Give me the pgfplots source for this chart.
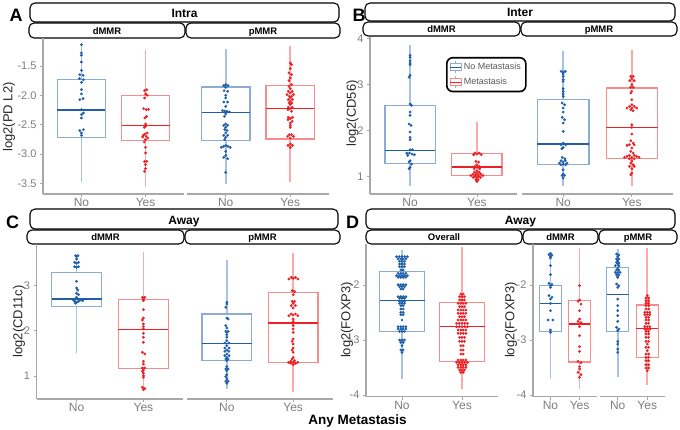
\documentclass[border=0pt]{standalone}
\usepackage{pgfplots}
\pgfplotsset{compat=1.18}
\usepgfplotslibrary{statistics}
\usepackage{fontspec}
\setmainfont{Liberation Sans}
\definecolor{dblue}{RGB}{31,95,170}
\definecolor{lblue}{RGB}{140,172,212}
\definecolor{wblue}{RGB}{168,194,228}
\definecolor{dred}{RGB}{238,32,36}
\definecolor{lred}{RGB}{246,140,140}
\definecolor{wred}{RGB}{250,170,170}
\definecolor{axgray}{RGB}{168,168,168}
\definecolor{tgray}{RGB}{125,125,125}
\pgfplotsset{
  facet/.style={scale only axis, xmin=0.4, xmax=2.6, xtick={1,2}, xticklabels={No,Yes},
    axis x line*=bottom, axis y line*=left,
    axis line style={axgray, line width=1.2pt}, tick style={axgray, line width=0.8pt},
    major tick length=3pt, tick align=outside,
    xticklabel style={font=\fontsize{12}{12}\selectfont, text=tgray, inner sep=1.5pt},
    yticklabel style={font=\fontsize{11}{11}\selectfont, text=tgray}},
  noyaxis/.style={axis y line=none},
  bdots/.style={only marks, mark=*, mark size=1.2pt, draw=dblue, fill=dblue, forget plot},
  rdots/.style={only marks, mark=*, mark size=1.2pt, draw=dred, fill=dred, forget plot},
}
\newcommand{\bx}[7]{\addplot[forget plot, draw=l#7, line width=1.15pt, boxplot prepared={draw direction=y, draw position=#1, lower whisker=#2, lower quartile=#3, median=#4, upper quartile=#5, upper whisker=#6, box extend=0.75, whisker extend=0, every median/.style={draw=d#7, line width=1.2pt}, every whisker/.style={draw=w#7, line width=1.6pt}}] coordinates {};}
\tikzset{strip/.style={line width=1.1pt, rounded corners=5pt, fill=white, draw=black}}
\begin{document}
\begin{tikzpicture}
\useasboundingbox (0pt,0pt) rectangle (680pt,430pt);
% ---------- strips and labels
\draw[strip] (30pt,408pt) rectangle (339pt,427pt);
\node[anchor=base, font=\bfseries\fontsize{12}{12}\selectfont] at (184.5pt,412pt) {Intra};
\draw[strip] (29pt,392pt) rectangle (185pt,407pt);
\node[anchor=base, font=\bfseries\fontsize{9.5}{9.5}\selectfont] at (107pt,395.8pt) {dMMR};
\draw[strip] (186pt,392pt) rectangle (340pt,407pt);
\node[anchor=base, font=\bfseries\fontsize{9.5}{9.5}\selectfont] at (263pt,395.8pt) {pMMR};
\draw[strip] (365pt,409pt) rectangle (675pt,427pt);
\node[anchor=base, font=\bfseries\fontsize{12}{12}\selectfont] at (520pt,413.3pt) {Inter};
\draw[strip] (363pt,394pt) rectangle (520pt,408pt);
\node[anchor=base, font=\bfseries\fontsize{9.5}{9.5}\selectfont] at (441.5pt,397.3pt) {dMMR};
\draw[strip] (521pt,394pt) rectangle (677pt,408pt);
\node[anchor=base, font=\bfseries\fontsize{9.5}{9.5}\selectfont] at (599pt,397.3pt) {pMMR};
\draw[strip] (30pt,201pt) rectangle (338pt,221pt);
\node[anchor=base, font=\bfseries\fontsize{12}{12}\selectfont] at (184pt,205.7pt) {Away};
\draw[strip] (27pt,186pt) rectangle (184pt,200pt);
\node[anchor=base, font=\bfseries\fontsize{9.5}{9.5}\selectfont] at (105.5pt,189pt) {dMMR};
\draw[strip] (185pt,186pt) rectangle (340pt,200pt);
\node[anchor=base, font=\bfseries\fontsize{9.5}{9.5}\selectfont] at (262.5pt,189pt) {pMMR};
\draw[strip] (366pt,201pt) rectangle (675pt,221pt);
\node[anchor=base, font=\bfseries\fontsize{12}{12}\selectfont] at (520.5pt,205.7pt) {Away};
\draw[strip] (366pt,186pt) rectangle (522pt,200pt);
\node[anchor=base, font=\bfseries\fontsize{9.5}{9.5}\selectfont] at (444pt,189pt) {Overall};
\draw[strip] (523pt,186pt) rectangle (598pt,200pt);
\node[anchor=base, font=\bfseries\fontsize{9.5}{9.5}\selectfont] at (560.5pt,189pt) {dMMR};
\draw[strip] (599pt,186pt) rectangle (677pt,200pt);
\node[anchor=base, font=\bfseries\fontsize{9.5}{9.5}\selectfont] at (638pt,189pt) {pMMR};
\node[anchor=base, font=\bfseries\fontsize{18}{18}\selectfont] at (16pt,408.3pt) {A};
\node[anchor=base, font=\bfseries\fontsize{18}{18}\selectfont] at (359pt,408.3pt) {B};
\node[anchor=base, font=\bfseries\fontsize{18}{18}\selectfont] at (12.5pt,201.7pt) {C};
\node[anchor=base, font=\bfseries\fontsize{18}{18}\selectfont] at (352.5pt,201.7pt) {D};
\node[rotate=90, font=\fontsize{13}{13}\selectfont, text=black!85] at (9pt,313pt) {log2(PD L2)};
\node[rotate=90, font=\fontsize{13}{13}\selectfont, text=black!85] at (352.5pt,316.5pt) {log2(CD56)};
\node[rotate=90, font=\fontsize{13}{13}\selectfont, text=black!85] at (19pt,108.5pt) {log2(CD11c)};
\node[rotate=90, font=\fontsize{13}{13}\selectfont, text=black!85] at (347pt,110pt) {log2(FOXP3)};
\node[rotate=90, font=\fontsize{13}{13}\selectfont, text=black!85] at (511pt,110pt) {log2(FOXP3)};
\node[anchor=base, font=\bfseries\fontsize{13.5}{13.5}\selectfont] at (357.5pt,5.7pt) {Any Metastasis};
% ---------- A dMMR
\begin{axis}[facet, at={(43pt,236pt)}, width=141pt, height=156pt, ymin=-3.682, ymax=-1.023,
  ytick={-3.5,-3,-2.5,-2,-1.5}, yticklabels={-3.5,-3.0,-2.5,-2.0,-1.5}]
\bx{1}{-3.478}{-2.716}{-2.25}{-1.733}{-1.125}{blue}
\bx{2}{-3.563}{-2.767}{-2.511}{-2.0}{-1.222}{red}
\addplot[bdots] coordinates {(1,-1.136) (1,-1.278) (1,-1.317) (1,-1.432) (1,-1.574) (0.975,-1.648) (1.025,-1.659) (0.97,-1.716) (1.03,-1.733) (1,-1.779) (1,-1.903) (1,-1.977) (1.025,-2.057) (0.975,-2.074) (1,-2.244) (1.03,-2.301) (1,-2.330) (1,-2.387) (1.03,-2.585) (0.975,-2.602) (1,-2.642) (1,-2.682)};
\addplot[rdots] coordinates {(2.02,-1.904) (1.985,-1.921) (2,-1.977) (2.025,-2.0) (1.985,-2.046) (1.97,-2.227) (2.01,-2.244) (2.045,-2.24) (2.015,-2.358) (1.99,-2.387) (2,-2.489) (2,-2.528) (1.98,-2.545) (2.025,-2.642) (1.99,-2.659) (1.965,-2.682) (2.01,-2.699) (2.035,-2.728) (1.955,-2.71) (2,-2.756) (1.98,-2.796) (2,-2.886) (2,-2.983) (2.02,-3.125) (1.985,-3.13) (2,-3.182) (2,-3.250) (1.985,-3.296)};
\end{axis}
% ---------- A pMMR
\begin{axis}[facet, noyaxis, at={(187pt,236pt)}, width=142pt, height=156pt, ymin=-3.682, ymax=-1.023]
\bx{1}{-3.507}{-2.773}{-2.290}{-1.858}{-1.205}{blue}
\bx{2}{-3.478}{-2.744}{-2.222}{-1.835}{-1.165}{red}
\addplot[bdots] coordinates {(1,-1.818) (0.97,-1.835) (1.035,-1.835) (1,-1.864) (0.975,-1.920) (1.03,-1.932) (1,-2.000) (1,-2.046) (0.97,-2.114) (1.03,-2.114) (1,-2.188) (0.95,-2.261) (0.985,-2.27) (1.02,-2.273) (1.055,-2.284) (1,-2.318) (0.98,-2.358) (1,-2.489) (0.97,-2.512) (1.03,-2.512) (1,-2.546) (0.985,-2.585) (1.02,-2.60) (1,-2.642) (0.97,-2.682) (1.03,-2.682) (1,-2.716) (0.985,-2.756) (1,-2.853) (0.965,-2.870) (1.035,-2.870) (1.07,-2.887) (0.93,-2.887) (1,-2.955) (1,-3.023) (0.97,-3.057) (1.03,-3.080) (1,-3.313)};
\addplot[rdots] coordinates {(2,-1.449) (2.02,-1.477) (2,-1.545) (1.98,-1.619) (2.02,-1.648) (2,-1.705) (1.98,-1.750) (2.02,-1.818) (1.98,-1.847) (2,-1.886) (1.97,-1.932) (2.03,-1.932) (2,-1.960) (1.95,-1.989) (2.05,-1.989) (1.985,-2.017) (2.02,-2.017) (2,-2.046) (1.97,-2.074) (2.035,-2.074) (2,-2.102) (1.98,-2.131) (2.02,-2.131) (2,-2.159) (1.97,-2.205) (2.03,-2.205) (2,-2.227) (1.965,-2.244) (2.02,-2.273) (1.97,-2.375) (2.035,-2.375) (2,-2.398) (1.965,-2.415) (2.03,-2.443) (2,-2.472) (2,-2.512) (2,-2.546) (1.985,-2.671) (2.02,-2.671) (1.96,-2.699) (2.05,-2.699) (2,-2.728) (2,-2.830) (1.965,-2.853) (2.035,-2.853) (2,-2.887)};
\end{axis}
% ---------- B dMMR
\begin{axis}[facet, at={(370pt,236pt)}, width=147pt, height=157pt, ymin=0.625, ymax=4.028,
  ytick={1,2,3,4}, yticklabels={1,2,3,4},
  legend style={at={(0.517,0.873)}, anchor=north west, draw=black, line width=1.6pt, rounded corners=6pt, fill=white, font=\fontsize{9}{10}\selectfont, text=black!65, inner xsep=3pt, inner ysep=3pt, row sep=2pt}, legend cell align=left]
\addlegendimage{legend image code/.code={\draw[lblue, line width=0.9pt, sharp corners] (0pt,-3.5pt) rectangle (11pt,3.5pt); \draw[dblue, line width=1pt] (0pt,0pt)--(11pt,0pt); \draw[lblue, line width=0.9pt] (5.5pt,3.5pt)--(5.5pt,6pt) (5.5pt,-3.5pt)--(5.5pt,-6pt);}}
\addlegendentry{No Metastasis}
\addlegendimage{legend image code/.code={\draw[lred, line width=0.9pt, sharp corners] (0pt,-3.5pt) rectangle (11pt,3.5pt); \draw[dred, line width=1pt] (0pt,0pt)--(11pt,0pt); \draw[lred, line width=0.9pt] (5.5pt,3.5pt)--(5.5pt,6pt) (5.5pt,-3.5pt)--(5.5pt,-6pt);}}
\addlegendentry{Metastasis}
\bx{1}{0.789}{1.295}{1.570}{2.539}{3.862}{blue}
\bx{2}{0.88}{1.027}{1.208}{1.497}{2.177}{red}
\addplot[bdots] coordinates {(1,3.631) (1,3.587) (1,3.515) (1,3.464) (1,3.428) (1,3.197) (0.985,3.153) (1,2.575) (1.02,2.546) (1,2.401) (1,2.329) (0.985,2.141) (1.015,2.112) (1,1.967) (1,1.852) (1,1.801) (1,1.584) (1.035,1.584) (0.95,1.512) (0.99,1.512) (1.03,1.490) (1.065,1.476) (0.965,1.461) (1,1.346) (0.985,1.317) (1.02,1.273) (1,1.201) (0.985,1.17)};
\addplot[rdots] coordinates {(1.97,1.512) (2.035,1.512) (2,1.490) (1.95,1.476) (2.065,1.476) (1.985,1.331) (2.025,1.317) (2,1.259) (1.97,1.223) (2.035,1.223) (2,1.201) (1.96,1.172) (2.04,1.172) (2,1.129) (1.965,1.100) (2.035,1.100) (2,1.078) (1.945,1.057) (2.055,1.057) (1.98,1.042) (2.02,1.042) (1.91,1.027) (2.09,1.027) (1.975,1.006) (2.025,1.006) (1.945,0.984) (2.055,0.984) (2,0.970) (1.985,0.933) (2.02,0.933) (2,0.897)};
\end{axis}
% ---------- B pMMR
\begin{axis}[facet, noyaxis, at={(522pt,236pt)}, width=151pt, height=157pt, ymin=0.625, ymax=4.028]
\bx{1}{0.789}{1.259}{1.707}{2.669}{3.717}{blue}
\bx{2}{0.789}{1.403}{2.069}{2.922}{3.753}{red}
\addplot[bdots] coordinates {(0.97,3.283) (1.03,3.283) (1,3.262) (1,3.226) (1,3.175) (1,3.103) (1,3.067) (1,2.907) (1,2.850) (1,2.792) (1,2.741) (0.985,2.597) (1.02,2.560) (1,2.488) (1,2.401) (0.985,2.286) (1.02,2.235) (1,2.163) (1,1.982) (1,1.729) (0.97,1.693) (1.035,1.693) (1,1.635) (0.98,1.606) (0.985,1.418) (1.025,1.389) (0.97,1.346) (1.03,1.346) (1,1.317) (0.945,1.295) (1.055,1.295) (1,1.273) (0.965,1.259) (1.035,1.259) (1,1.150) (1,1.057) (0.985,1.027) (1.02,1.027) (1,0.970)};
\addplot[rdots] coordinates {(1.985,3.175) (2.02,3.175) (2,3.124) (1.97,3.081) (2.035,3.081) (2,2.994) (1.98,2.936) (2.02,2.936) (2,2.850) (1.985,2.813) (2,2.669) (2,2.560) (1.965,2.524) (2.035,2.524) (1.93,2.488) (2,2.488) (2.07,2.488) (1.985,2.452) (2.02,2.430) (2,2.127) (2,2.069) (2,1.924) (1.985,1.779) (2.02,1.729) (1.965,1.693) (2.035,1.693) (1.93,1.678) (2,1.620) (1.985,1.548) (2.02,1.512) (1.965,1.461) (2.035,1.461) (1.93,1.440) (2.07,1.440) (2,1.418) (1.895,1.418) (2.105,1.418) (1.965,1.389) (2.035,1.389) (2,1.346) (1.985,1.295) (2.02,1.259) (1.965,1.223) (2.035,1.223) (2,1.172) (2,1.078) (1.985,1.042)};
\end{axis}
% ---------- C dMMR
\begin{axis}[facet, at={(36.5pt,31pt)}, width=147pt, height=155pt, ymin=0.491, ymax=3.923,
  ytick={1,2,3}, yticklabels={1,2,3}]
\bx{1}{1.517}{2.543}{2.705}{3.296}{3.665}{blue}
\bx{2}{0.68}{1.170}{2.026}{2.691}{3.739}{red}
\addplot[bdots] coordinates {(0.985,3.665) (1.02,3.665) (1,3.643) (1,3.591) (0.97,3.517) (1.03,3.517) (1,3.495) (0.97,3.421) (1.03,3.421) (1,3.406) (1,3.096) (1,2.949) (1.015,2.905) (1,2.831) (1.03,2.801) (1,2.742) (0.985,2.705) (1.02,2.705) (0.95,2.683) (1.055,2.683) (1.09,2.668) (0.97,2.654) (1.03,2.654) (1,2.632) (0.985,2.609)};
\addplot[rdots] coordinates {(1.985,2.742) (2.02,2.742) (2,2.705) (2,2.668) (2,2.469) (2,2.285) (1.985,2.240) (2,2.152) (2,2.093) (2,2.041) (2,1.945) (2,1.857) (2,1.746) (1.985,1.525) (2.02,1.488) (2,1.325) (2,1.266) (1.985,1.178) (2.02,1.178) (2,1.133) (1.985,1.104) (2,1.060) (2,1.008) (2,0.971) (1.985,0.750) (2.02,0.720) (2,0.698)};
\end{axis}
% ---------- C pMMR
\begin{axis}[facet, noyaxis, at={(187pt,31pt)}, width=146pt, height=155pt, ymin=0.491, ymax=3.923]
\bx{1}{0.713}{1.340}{1.724}{2.373}{3.569}{blue}
\bx{2}{0.639}{1.303}{2.174}{2.853}{3.716}{red}
\addplot[bdots] coordinates {(1,2.632) (1,2.595) (0.985,2.521) (1,2.285) (1.02,2.263) (0.985,2.115) (1,2.063) (0.985,1.989) (1.02,1.989) (1,1.967) (1,1.916) (1,1.857) (1,1.783) (0.97,1.731) (1.03,1.731) (1,1.672) (0.97,1.621) (1.035,1.621) (1,1.576) (0.97,1.547) (1.03,1.547) (1,1.488) (0.97,1.451) (1.035,1.451) (1,1.414) (0.985,1.377) (1.02,1.377) (1,1.340) (1,1.207) (0.985,1.155) (1.02,1.155) (1,1.119) (1,1.030) (0.985,0.986) (1,0.934) (0.985,0.882) (1.02,0.882) (1,0.838)};
\addplot[rdots] coordinates {(1.97,3.185) (2.035,3.185) (2,3.163) (2.07,3.148) (1.935,3.148) (1.985,2.890) (2.02,2.868) (2,2.801) (1.985,2.654) (2.02,2.654) (2,2.609) (1.97,2.558) (2.035,2.558) (2,2.506) (1.97,2.373) (2.035,2.373) (2,2.351) (1.935,2.336) (2.07,2.336) (2,2.263) (2,2.211) (1.985,2.167) (2,2.115) (2,2.041) (2,1.967) (2,1.820) (1.985,1.768) (2,1.709) (2,1.621) (1.985,1.576) (2,1.525) (2,1.414) (1.985,1.377) (2.02,1.340) (1.965,1.325) (2,1.303) (1.93,1.303) (2.07,1.303) (1.965,1.281) (2.035,1.281) (2,1.251)};
\end{axis}
% ---------- D overall
\begin{axis}[facet, at={(366pt,33.3pt)}, width=132pt, height=152.7pt, ymin=-4.03, ymax=-1.2545,
  ytick={-4,-3,-2}, yticklabels={-4,-3,-2}]
\bx{1}{-3.709}{-2.849}{-2.285}{-1.751}{-1.364}{blue}
\bx{2}{-3.891}{-3.388}{-2.758}{-2.315}{-1.315}{red}
\addplot[bdots] coordinates {(0.91,-1.485) (0.955,-1.485) (1,-1.485) (1.045,-1.485) (1.09,-1.485)
(0.935,-1.527) (0.98,-1.527) (1.02,-1.527) (1.065,-1.527)
(0.96,-1.570) (1,-1.570) (1.04,-1.570)
(0.96,-1.618) (1,-1.618) (1.04,-1.618)
(0.96,-1.667) (1,-1.667) (1.04,-1.667)
(0.98,-1.727) (1.02,-1.727)
(0.935,-1.788) (0.98,-1.788) (1.02,-1.788) (1.065,-1.788)
(0.91,-1.830) (0.955,-1.830) (1,-1.830) (1.045,-1.830) (1.09,-1.830)
(0.935,-1.861) (0.98,-1.861) (1.02,-1.861) (1.065,-1.861)
(0.935,-1.994) (0.98,-1.994) (1.02,-1.994) (1.065,-1.994)
(0.96,-2.030) (1,-2.030) (1.04,-2.030)
(0.98,-2.073) (1.02,-2.073)
(0.935,-2.212) (0.98,-2.212) (1.02,-2.212) (1.065,-2.212)
(0.96,-2.243) (1,-2.243) (1.04,-2.243)
(0.96,-2.297) (1,-2.297) (1.04,-2.297)
(0.96,-2.333) (1,-2.333) (1.04,-2.333)
(0.98,-2.376) (1.02,-2.376)
(0.98,-2.436) (1.02,-2.436)
(0.98,-2.497) (1.02,-2.497)
(0.98,-2.540) (1.02,-2.540)
(1,-2.636)
(0.935,-2.758) (0.98,-2.758) (1.02,-2.758) (1.065,-2.758)
(0.935,-2.800) (0.98,-2.800) (1.02,-2.800) (1.065,-2.800)
(0.96,-2.843) (1,-2.843) (1.04,-2.843)
(0.96,-3.000) (1,-3.000) (1.04,-3.000)
(0.98,-3.043) (1.02,-3.043)
(1,-3.103)
(0.98,-3.182) (1.02,-3.182)
(1,-3.224)};
\addplot[rdots] coordinates {(1.98,-2.164) (2.02,-2.164)
(1.96,-2.212) (2,-2.212) (2.04,-2.212)
(1.96,-2.273) (2,-2.273) (2.04,-2.273)
(1.935,-2.333) (1.98,-2.333) (2.02,-2.333) (2.065,-2.333)
(1.96,-2.394) (2,-2.394) (2.04,-2.394)
(1.935,-2.455) (1.98,-2.455) (2.02,-2.455) (2.065,-2.455)
(1.935,-2.515) (1.98,-2.515) (2.02,-2.515) (2.065,-2.515)
(1.96,-2.576) (2,-2.576) (2.04,-2.576)
(1.935,-2.636) (1.98,-2.636) (2.02,-2.636) (2.065,-2.636)
(1.91,-2.697) (1.955,-2.697) (2,-2.697) (2.045,-2.697) (2.09,-2.697)
(1.91,-2.758) (1.955,-2.758) (2,-2.758) (2.045,-2.758) (2.09,-2.758)
(1.935,-2.818) (1.98,-2.818) (2.02,-2.818) (2.065,-2.818)
(1.935,-2.879) (1.98,-2.879) (2.02,-2.879) (2.065,-2.879)
(1.96,-2.952) (2,-2.952) (2.04,-2.952)
(1.96,-3.024) (2,-3.024) (2.04,-3.024)
(1.98,-3.103) (2.02,-3.103)
(1.98,-3.182) (2.02,-3.182)
(1.98,-3.255) (2.02,-3.255)
(1.935,-3.364) (1.98,-3.364) (2.02,-3.364) (2.065,-3.364)
(1.91,-3.406) (1.955,-3.406) (2,-3.406) (2.045,-3.406) (2.09,-3.406)
(1.935,-3.449) (1.98,-3.449) (2.02,-3.449) (2.065,-3.449)
(1.935,-3.497) (1.98,-3.497) (2.02,-3.497) (2.065,-3.497)
(1.96,-3.546) (2,-3.546) (2.04,-3.546)
(1.98,-3.588) (2.02,-3.588)};
\end{axis}
% ---------- D dMMR
\begin{axis}[facet, at={(533pt,33.3pt)}, width=64pt, height=152.7pt, ymin=-4.03, ymax=-1.2545,
  ytick={-4,-3,-2}, yticklabels={-4,-3,-2}]
\bx{1}{-3.709}{-2.842}{-2.333}{-2.012}{-1.424}{blue}
\bx{2}{-3.891}{-3.400}{-2.709}{-2.285}{-1.327}{red}
\addplot[bdots] coordinates {(1,-1.424) (0.95,-1.448) (1.05,-1.46) (1,-1.485) (1,-1.509) (1,-1.648) (1,-1.812) (0.95,-1.970) (1.05,-1.99) (1,-2.012) (1.0,-2.042) (0.95,-2.194) (1.05,-2.224) (1,-2.255) (1,-2.333) (1,-2.467) (0.92,-2.636) (1.08,-2.636) (1,-2.818) (1,-2.861)};
\addplot[rdots] coordinates {(2,-2.012) (2,-2.273) (1.95,-2.297) (2.05,-2.346) (2,-2.467) (2,-2.618) (1.95,-2.661) (2.05,-2.685) (2,-2.709) (2,-2.758) (2,-2.921) (2,-3.121) (2,-3.206) (1.95,-3.388) (2.05,-3.412) (2,-3.485) (2,-3.527) (1.95,-3.588) (2.05,-3.630) (2,-3.679)};
\end{axis}
% ---------- D pMMR
\begin{axis}[facet, noyaxis, at={(600pt,33.3pt)}, width=65pt, height=152.7pt, ymin=-4.03, ymax=-1.2545]
\bx{1}{-3.667}{-2.842}{-2.176}{-1.679}{-1.345}{blue}
\bx{2}{-3.812}{-3.315}{-2.788}{-2.364}{-1.327}{red}
\addplot[bdots] coordinates {(0.96,-1.436) (1.04,-1.455) (1,-1.485) (0.96,-1.527) (1.04,-1.527) (1,-1.558) (0.96,-1.588) (1.04,-1.6) (1,-1.618) (0.92,-1.648) (1.04,-1.648) (1,-1.691) (0.96,-1.727) (1.04,-1.727) (0.92,-1.770) (1.0,-1.770) (1.08,-1.770) (0.96,-1.812) (1.04,-1.812) (1,-1.848) (1,-1.861) (0.96,-1.982) (1.04,-2.012) (1,-2.042) (1,-2.255) (1,-2.376) (1,-2.467) (1,-2.558) (1,-2.661) (0.96,-2.770) (1.04,-2.800) (1,-2.830) (1,-3.024) (1,-3.073) (1,-3.164) (1,-3.224)};
\addplot[rdots] coordinates {(2,-2.194) (1.955,-2.236) (2.045,-2.236) (1.955,-2.285) (2.045,-2.285) (1.955,-2.333) (2.045,-2.333) (1.955,-2.376) (2.045,-2.376) (1.955,-2.436) (2.045,-2.436) (1.915,-2.497) (2,-2.497) (2.085,-2.497) (1.915,-2.540) (2,-2.540) (2.085,-2.540) (1.955,-2.588) (2.045,-2.588) (1.955,-2.636) (2.045,-2.636) (1.955,-2.697) (2.045,-2.697) (1.915,-2.758) (2,-2.758) (2.085,-2.758) (1.915,-2.800) (2,-2.800) (2.085,-2.800) (1.955,-2.843) (2.045,-2.843) (1.955,-2.891) (2.045,-2.891) (1.955,-2.952) (2.045,-2.952) (1.955,-3.024) (2.045,-3.024) (2,-3.073) (1.955,-3.133) (2.045,-3.133) (2,-3.194) (1.955,-3.255) (2.045,-3.255) (1.955,-3.315) (2.045,-3.315) (1.955,-3.376) (2.045,-3.376) (1.955,-3.449) (2.045,-3.449) (1.955,-3.509) (2.045,-3.509) (2,-3.558)};
\end{axis}
\end{tikzpicture}
\end{document}
